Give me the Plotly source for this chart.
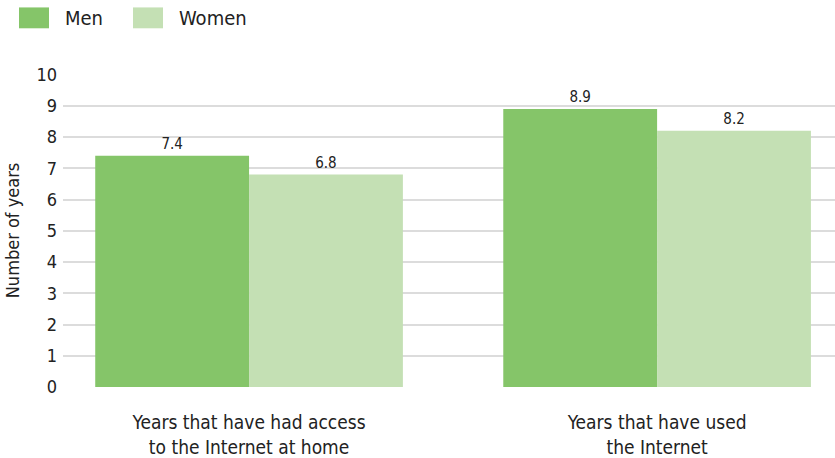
import plotly.graph_objects as go

categories = ["Years that have had access<br>to the Internet at home",
              "Years that have used<br>the Internet"]
men = [7.4, 8.9]
women = [6.8, 8.2]
y_ticks = list(range(0, 11))

MEN_COLOR = "#85C569"
WOMEN_COLOR = "#C4E0B4"
TEXT_COLOR = "#222222"
FONT = "DejaVu Sans Condensed, Roboto, sans-serif"

fig = go.Figure()
fig.add_trace(go.Bar(
    x=categories, y=men, name="Men", marker=dict(color=MEN_COLOR, line=dict(width=0)),
    text=[f"{v:.1f}" for v in men], textposition="outside",
    textfont=dict(size=15, color=TEXT_COLOR), cliponaxis=False,
))
fig.add_trace(go.Bar(
    x=categories, y=women, name="Women", marker=dict(color=WOMEN_COLOR, line=dict(width=0)),
    text=[f"{v:.1f}" for v in women], textposition="outside",
    textfont=dict(size=15, color=TEXT_COLOR), cliponaxis=False,
))

# custom legend with wide rectangular swatches
legend_items = [("Men", MEN_COLOR, 19), ("Women", WOMEN_COLOR, 133)]
for label, color, x0 in legend_items:
    fig.add_shape(type="rect", xref="paper", yref="paper",
                  x0=(x0 - 63) / 772, x1=(x0 + 30 - 63) / 772,
                  y0=(389 - 28) / 315, y1=(389 - 7) / 315,
                  fillcolor=color, line=dict(width=0), layer="above")
    fig.add_annotation(xref="paper", yref="paper",
                       x=(x0 + 44 - 63) / 772, y=(389 - 18) / 315,
                       text=label, showarrow=False, xanchor="left", yanchor="middle",
                       font=dict(size=20, color=TEXT_COLOR, family=FONT))

fig.update_layout(
    width=835, height=458,
    margin=dict(l=63, r=0, t=74, b=69),
    paper_bgcolor="white", plot_bgcolor="white",
    barmode="group", bargap=0.246, bargroupgap=0,
    showlegend=False,
    font=dict(family=FONT, color=TEXT_COLOR, size=18),
    xaxis=dict(range=[-0.456, 1.436], showgrid=False, showline=False, zeroline=False,
               ticks="", tickfont=dict(size=19), ticklabelstandoff=22),
    yaxis=dict(range=[0, 10.02], tickvals=y_ticks, showgrid=True, gridcolor="#DCDCDC",
               gridwidth=2, zeroline=False, showline=False, ticks="",
               tickfont=dict(size=18), ticklabelstandoff=5,
               title=dict(text="Number of years", font=dict(size=18), standoff=12)),
)

fig.write_html("out.html")
